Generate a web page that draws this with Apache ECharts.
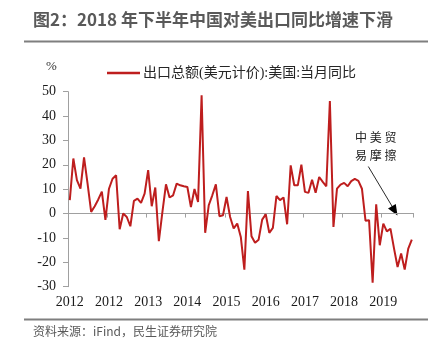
<!DOCTYPE html>
<html>
<head>
<meta charset="utf-8">
<script src="https://cdn.jsdelivr.net/npm/echarts@6/dist/echarts.min.js"></script>
<style>
  html, body { margin: 0; padding: 0; background: #fff; }
  #chart { width: 428px; height: 348px; }
</style>
</head>
<body>
<div id="chart"></div>
<script>
// Monthly categories, Jan 2012 onward
const startYear = 2012;
const monthCount = 97;
const months = [];
for (let k = 0; k < monthCount; k++) {
  const y = startYear + Math.floor(k / 12);
  const m = (k % 12) + 1;
  months.push(y + '-' + (m < 10 ? '0' + m : m));
}

// 出口总额(美元计价):美国:当月同比, %
const exportYoY = [
  5.5, 22.6, 13.7, 10.2, 23.1, 12.2, 0.7, 3.0, 5.8, 9.0,
  -2.6, 10.2, 14.3, 15.7, -6.4, 0.0, -1.4, -5.2, 5.2, 6.1,
  4.4, 8.2, 17.8, 3.0, 10.7, -11.3, 0.7, 12.0, 6.6, 7.5,
  12.3, 11.6, 11.2, 10.9, 2.7, 10.1, 4.8, 48.5, -7.9, 3.4,
  7.5, 12.0, -1.1, -0.7, 6.8, -1.4, -6.1, -4.1, -9.6, -23.0,
  9.2, -9.3, -12.0, -10.7, -2.5, -0.3, -7.9, -5.9, 7.2, 5.5,
  6.6, -4.4, 19.8, 11.6, 11.6, 20.1, 8.9, 8.5, 13.9, 8.5,
  15.0, 13.0, 11.2, 46.2, -5.5, 10.2, 11.9, 12.6, 11.2, 13.3,
  14.2, 13.4, 10.2, -2.9, -2.7, -28.4, 3.8, -13.0, -4.1, -7.3,
  -6.2, -14.3, -21.9, -16.4, -23.0, -14.4, -10.7
];

const yTicks = { min: -30, max: 50, interval: 10 };

const seriesName = '出口总额(美元计价):美国:当月同比';
const lineColor = '#BE1E1E';
const axisGray = '#A0A0A0';
const serif = '"Liberation Serif", "Times New Roman", serif';
const cjk = '"Noto Sans CJK SC", "Noto Sans", sans-serif';

const chart = echarts.init(document.getElementById('chart'), null, { renderer: 'canvas' });

chart.setOption({
  animation: false,
  backgroundColor: '#ffffff',
  grid: { left: 68, right: 14.4, top: 91.7, bottom: 61.3, containLabel: false },
  legend: {
    data: [seriesName],
    left: 102,
    top: 61,
    icon: 'rect',
    itemWidth: 33,
    itemHeight: 2.5,
    itemGap: 10,
    textStyle: { fontFamily: serif + ', ' + cjk, fontSize: 14, color: '#262626', padding: [0, 0, 0, -2] }
  },
  xAxis: [
    {
      type: 'category',
      data: months,
      boundaryGap: true,
      position: 'bottom',
      axisLine: { show: false, onZero: false },
      axisTick: { show: false },
      axisLabel: {
        interval: 10,
        margin: 9,
        fontFamily: serif,
        fontSize: 14,
        color: '#1a1a1a',
        formatter: function (v) { return v.slice(0, 4); }
      },
      splitLine: { show: false }
    },
    {
      type: 'category',
      data: months,
      boundaryGap: true,
      position: 'bottom',
      axisLine: { show: true, onZero: true, lineStyle: { color: axisGray, width: 1 } },
      axisTick: { show: true, interval: 10, length: 4, lineStyle: { color: axisGray } },
      axisLabel: { show: false },
      splitLine: { show: false }
    }
  ],
  yAxis: {
    type: 'value',
    min: yTicks.min,
    max: yTicks.max,
    interval: yTicks.interval,
    axisLine: { show: true, lineStyle: { color: axisGray, width: 1 } },
    axisTick: { show: true, length: 5, lineStyle: { color: axisGray } },
    axisLabel: { margin: 12, fontFamily: serif, fontSize: 14, color: '#1a1a1a' },
    splitLine: { show: false }
  },
  series: [
    {
      name: seriesName,
      type: 'line',
      xAxisIndex: 0,
      data: exportYoY,
      showSymbol: false,
      symbol: 'none',
      lineStyle: { color: lineColor, width: 2 },
      itemStyle: { color: lineColor },
      z: 5
    }
  ],
  graphic: [
    {
      type: 'text',
      left: 33,
      top: 11,
      style: {
        text: '图2：2018 年下半年中国对美出口同比增速下滑',
        font: 'bold 17px ' + cjk,
        fill: '#595959'
      }
    },
    {
      type: 'line',
      shape: { x1: 24, y1: 41.5, x2: 428, y2: 41.5 },
      style: { stroke: '#7F7F7F', lineWidth: 2 }
    },
    {
      type: 'text',
      left: 46,
      top: 60,
      style: { text: '%', font: '13px ' + serif, fill: '#333333' }
    },
    {
      type: 'text',
      left: 355,
      top: 129,
      style: {
        text: '中 美 贸\n易 摩 擦',
        font: '12px ' + cjk,
        lineHeight: 17.5,
        fill: '#222222'
      }
    },
    {
      type: 'line',
      shape: { x1: 368.3, y1: 166.5, x2: 392.5, y2: 207 },
      style: { stroke: '#111111', lineWidth: 0.9 }
    },
    {
      type: 'polygon',
      shape: { points: [[397.5, 215.5], [388.0, 208.6], [395.8, 203.9]] },
      style: { fill: '#000000' }
    },
    {
      type: 'line',
      shape: { x1: 24, y1: 319.5, x2: 428, y2: 319.5 },
      style: { stroke: '#7F7F7F', lineWidth: 2 }
    },
    {
      type: 'text',
      left: 33,
      top: 325,
      style: { text: '资料来源：iFind，民生证券研究院', font: '12px ' + cjk, fill: '#595959' }
    }
  ]
});
</script>
</body>
</html>
